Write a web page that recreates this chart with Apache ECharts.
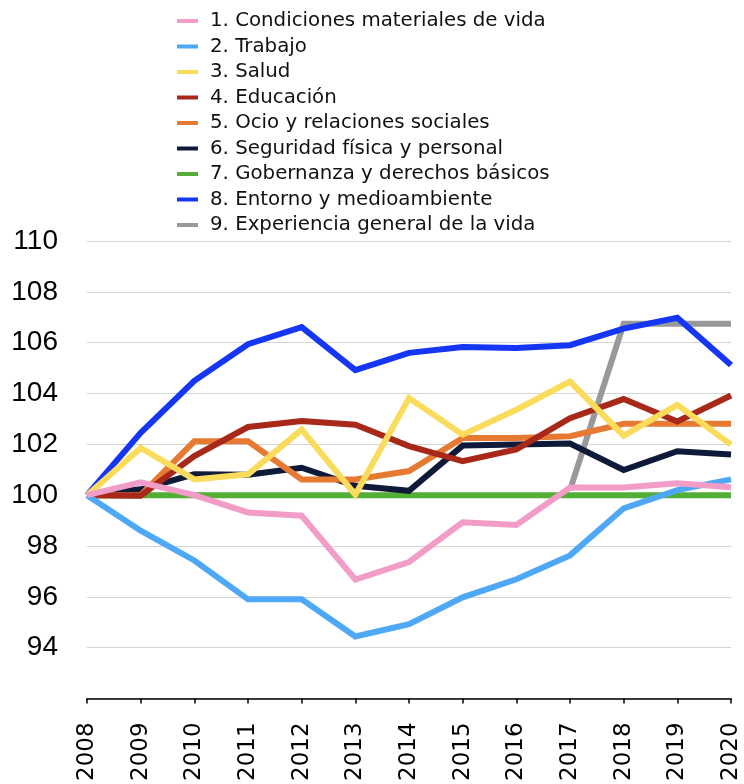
<!DOCTYPE html>
<html>
<head>
<meta charset="utf-8">
<script src="https://cdn.jsdelivr.net/npm/echarts@6/dist/echarts.min.js"></script>
<style>html,body{margin:0;padding:0;background:#fff}#c{width:744px;height:784px}</style>
</head>
<body>
<div id="c"></div>
<script>
var years = ['2008','2009','2010','2011','2012','2013','2014','2015','2016','2017','2018','2019','2020'];
var yTicks = [94, 96, 98, 100, 102, 104, 106, 108, 110];
var names = ['1. Condiciones materiales de vida','2. Trabajo','3. Salud','4. Educación','5. Ocio y relaciones sociales','6. Seguridad física y personal','7. Gobernanza y derechos básicos','8. Entorno y medioambiente','9. Experiencia general de la vida'];
var s1 = [100, 100.5, 100.0, 99.32, 99.19, 96.68, 97.37, 98.93, 98.83, 100.3, 100.3, 100.47, 100.31];
var s2 = [100, 98.6, 97.43, 95.9, 95.9, 94.44, 94.92, 95.98, 96.69, 97.63, 99.48, 100.2, 100.62];
var s3 = [100, 101.86, 100.62, 100.82, 102.58, 100.02, 103.82, 102.38, 103.36, 104.47, 102.34, 103.55, 101.99];
var s4 = [100, 99.98, 101.54, 102.68, 102.92, 102.77, 101.93, 101.34, 101.8, 103.03, 103.78, 102.9, 103.92];
var s5 = [100, 100, 102.12, 102.12, 100.62, 100.62, 100.95, 102.25, 102.25, 102.32, 102.81, 102.81, 102.81];
var s6 = [100, 100.23, 100.82, 100.8, 101.08, 100.37, 100.17, 101.95, 101.99, 102.03, 100.99, 101.73, 101.6];
var s7 = [100, 100, 100, 100, 100, 100, 100, 100, 100, 100, 100, 100, 100];
var s8 = [100, 102.45, 104.5, 105.94, 106.61, 104.92, 105.6, 105.83, 105.79, 105.9, 106.55, 106.98, 105.12];
var s9 = [null, null, null, null, null, null, null, null, null, 100.2, 106.74, 106.74, 106.74];
var colors = ['#F29CC8','#4FA8F6','#FADB5C','#A8291A','#E67A33','#0E1A38','#52AE35','#1537F5','#999999'];
var allData = [s1,s2,s3,s4,s5,s6,s7,s8,s9];

var series = allData.map(function(d, i){
  return {
    name: names[i], type: 'line', data: d, symbol: 'none', z: 20 - i,
    lineStyle: {width: 6, color: colors[i], join: 'miter'},
    itemStyle: {color: colors[i]}, connectNulls: false, animation: false
  };
});

var chart = echarts.init(document.getElementById('c'), null, {renderer: 'canvas'});
chart.setOption({
  animation: false,
  color: colors,
  legend: {
    orient: 'vertical', left: 172, top: 6, itemWidth: 21, itemHeight: 4, itemGap: 5.5,
    icon: 'rect', data: names,
    textStyle: {fontFamily: 'DejaVu Sans, sans-serif', fontSize: 19.8, color: '#111', lineHeight: 20, padding: [0,0,0,7]}
  },
  grid: {left: 87, right: 13, top: 241, bottom: 82, containLabel: false},
  xAxis: {
    type: 'category', data: years, boundaryGap: false,
    axisLine: {lineStyle: {color: '#000', width: 1.5}},
    axisTick: {show: true, length: 5, lineStyle: {color: '#000', width: 1.5}},
    axisLabel: {rotate: 90, fontFamily: 'DejaVu Sans, sans-serif', fontSize: 23, color: '#000', margin: 24, interval: 0},
    splitLine: {show: false}
  },
  yAxis: {
    type: 'value', min: 92, max: 110, interval: 2,
    axisLine: {show: false}, axisTick: {show: false},
    axisLabel: {fontFamily: 'Liberation Sans, Arial, sans-serif', fontSize: 28, color: '#000', margin: 29,
      formatter: function(v){ return yTicks.indexOf(v) >= 0 ? String(v) : ''; }},
    splitLine: {lineStyle: {color: '#d4d4d4', width: 1.2}}
  },
  series: series
});
</script>
</body>
</html>
